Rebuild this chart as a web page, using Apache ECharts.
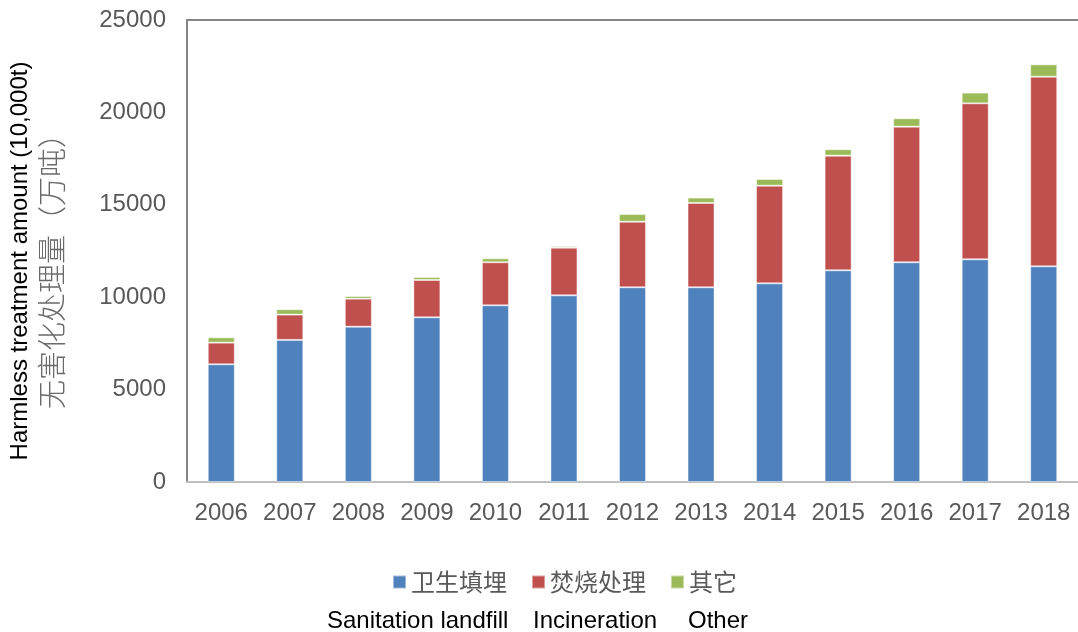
<!DOCTYPE html>
<html>
<head>
<meta charset="utf-8">
<script src="https://cdn.jsdelivr.net/npm/echarts@6/dist/echarts.min.js"></script>
<style>
  html, body { margin: 0; padding: 0; background: #fff; }
  #main { width: 1078px; height: 632px; }
</style>
</head>
<body>
<div id="main"></div>
<script>
// 年份
var years = ['2006', '2007', '2008', '2009', '2010', '2011', '2012', '2013', '2014', '2015', '2016', '2017', '2018'];
// 卫生填埋
var landfill = [6370, 7690, 8405, 8910, 9560, 10100, 10535, 10535, 10750, 11455, 11890, 12050, 11670];
// 焚烧处理
var incineration = [1170, 1370, 1515, 2020, 2330, 2580, 3550, 4565, 5285, 6205, 7340, 8440, 10260];
// 其它
var other = [290, 290, 145, 160, 215, 90, 415, 290, 360, 345, 450, 580, 670];

var seriesNames = ['卫生填埋', '焚烧处理', '其它'];
var seriesNamesEn = ['Sanitation landfill', 'Incineration', 'Other'];
var colors = ['#4F81BD', '#C0504D', '#9BBB59'];

var chart = echarts.init(document.getElementById('main'));

var barStyle = {
    borderColor: 'rgba(255,255,255,0.45)',
    borderWidth: 1
};

var option = {
    animation: false,
    color: colors,
    textStyle: {
        fontFamily: 'Arial, "Liberation Sans", "Noto Sans CJK SC", sans-serif'
    },
    grid: {
        left: 187,
        top: 20,
        width: 895,
        height: 462
    },
    legend: {
        data: seriesNames,
        left: 387,
        top: 565,
        itemWidth: 13,
        itemHeight: 13,
        itemGap: 24,
        icon: 'rect',
        textStyle: {
            fontSize: 24,
            color: '#595959',
            fontFamily: '"Noto Sans CJK SC", sans-serif'
        }
    },
    xAxis: [
        {
            type: 'category',
            data: years,
            axisTick: { show: false },
            axisLine: { lineStyle: { color: '#BFBFBF', width: 2 } },
            axisLabel: {
                color: '#595959',
                fontSize: 24,
                margin: 19,
                interval: 0
            }
        },
        {
            type: 'category',
            position: 'top',
            data: years,
            axisTick: { show: false },
            axisLabel: { show: false },
            axisLine: { lineStyle: { color: '#868686', width: 2 } }
        }
    ],
    yAxis: {
        type: 'value',
        min: 0,
        max: 25000,
        interval: 5000,
        splitLine: { show: false },
        axisTick: { show: false },
        axisLine: { show: true, lineStyle: { color: '#868686', width: 2 } },
        axisLabel: {
            color: '#595959',
            fontSize: 24,
            margin: 21,
            formatter: function (v) { return String(v); }
        }
    },
    graphic: [
        {
            type: 'text',
            x: 20,
            y: 261,
            rotation: Math.PI / 2,
            style: {
                text: 'Harmless treatment amount (10,000t)',
                fontSize: 24,
                fill: '#000',
                fontFamily: 'Arial, "Liberation Sans", sans-serif',
                textAlign: 'center',
                textVerticalAlign: 'middle'
            }
        },
        {
            type: 'text',
            x: 52,
            y: 264,
            rotation: Math.PI / 2,
            style: {
                text: '无害化处理量（万吨）',
                fontSize: 29,
                fill: '#6a6a6a',
                fontFamily: '"Noto Sans CJK SC", sans-serif',
                fontWeight: 300,
                textAlign: 'center',
                textVerticalAlign: 'middle'
            }
        },
        {
            type: 'text',
            x: 327,
            y: 621,
            style: {
                text: seriesNamesEn[0],
                fontSize: 24,
                fill: '#000',
                fontFamily: 'Arial, "Liberation Sans", sans-serif',
                textVerticalAlign: 'middle'
            }
        },
        {
            type: 'text',
            x: 533,
            y: 621,
            style: {
                text: seriesNamesEn[1],
                fontSize: 24,
                fill: '#000',
                fontFamily: 'Arial, "Liberation Sans", sans-serif',
                textVerticalAlign: 'middle'
            }
        },
        {
            type: 'text',
            x: 688,
            y: 621,
            style: {
                text: seriesNamesEn[2],
                fontSize: 24,
                fill: '#000',
                fontFamily: 'Arial, "Liberation Sans", sans-serif',
                textVerticalAlign: 'middle'
            }
        }
    ],
    series: [
        {
            name: seriesNames[0],
            type: 'bar',
            stack: 'total',
            barWidth: 27,
            itemStyle: barStyle,
            data: landfill
        },
        {
            name: seriesNames[1],
            type: 'bar',
            stack: 'total',
            barWidth: 27,
            itemStyle: barStyle,
            data: incineration
        },
        {
            name: seriesNames[2],
            type: 'bar',
            stack: 'total',
            barWidth: 27,
            itemStyle: barStyle,
            data: other
        }
    ]
};
chart.setOption(option);
</script>
</body>
</html>
